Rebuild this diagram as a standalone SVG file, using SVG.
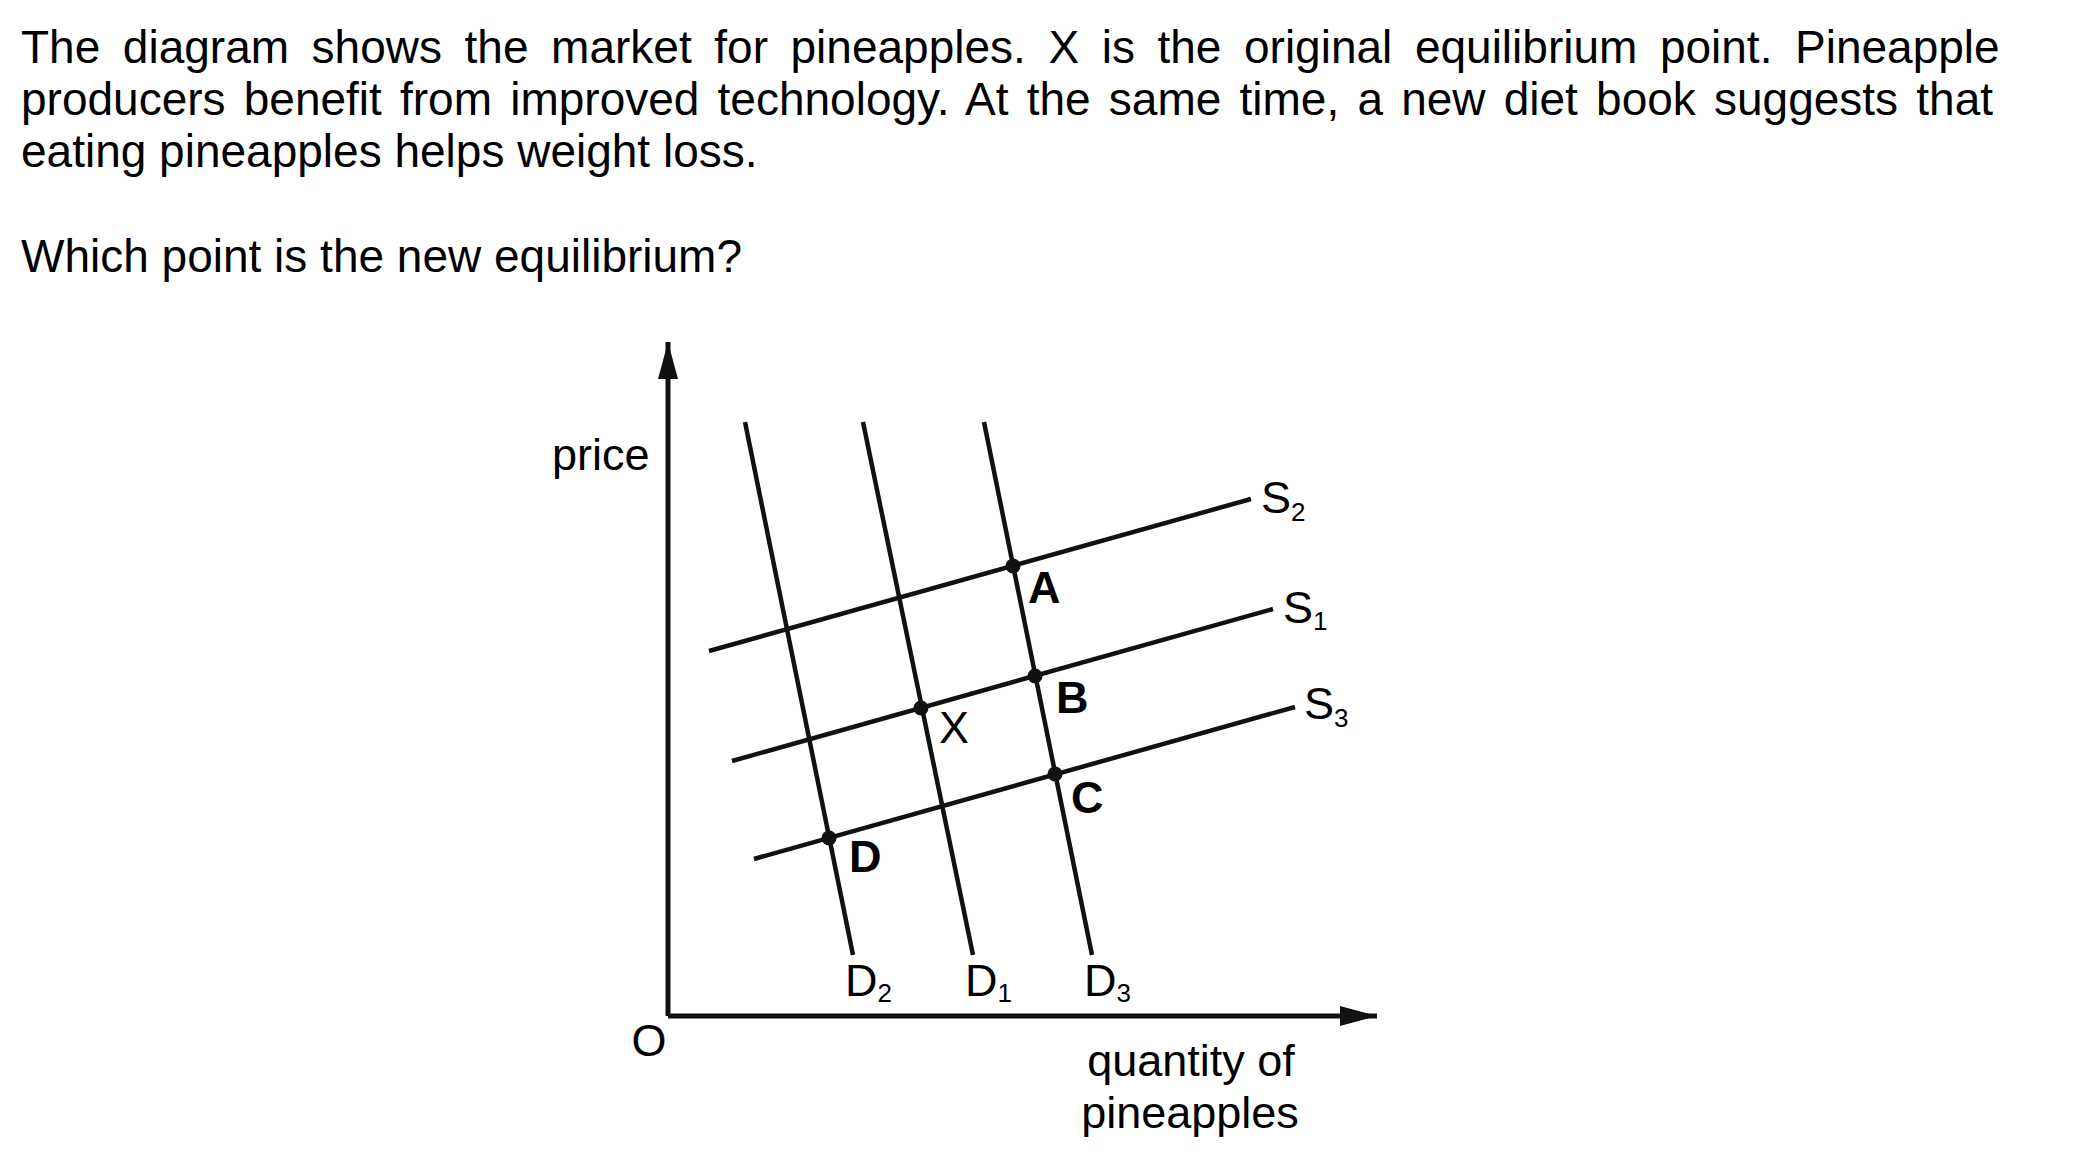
<svg xmlns="http://www.w3.org/2000/svg" width="2099" height="1161" viewBox="0 0 2099 1161">
<style>
text{font-family:"Liberation Sans",Arial,sans-serif;fill:#000}
.q{font-size:46px}
.lb{font-size:45px}
.b{font-weight:bold}
.sub{font-size:26px}
.ax{stroke:#111;stroke-width:5;fill:none}
.cv{stroke:#111;stroke-width:4.5;fill:none;stroke-linecap:butt}
.pt{fill:#111}
</style>
<defs>
<marker id="arr" markerUnits="userSpaceOnUse" markerWidth="40" markerHeight="22" refX="37" refY="10" orient="auto" viewBox="0 0 40 22">
<path d="M0,0 L37,10 L0,20 Z" fill="#111"/>
</marker>
</defs>
<rect width="2099" height="1161" fill="#fff"/>
<g id="question">
<text class="q" x="21" y="63" word-spacing="9.8">The diagram shows the market for pineapples. X is the original equilibrium point. Pineapple</text>
<text class="q" x="21" y="115" word-spacing="5.4">producers benefit from improved technology. At the same time, a new diet book suggests that</text>
<text class="q" x="21" y="167">eating pineapples helps weight loss.</text>
<text class="q" x="21" y="272">Which point is the new equilibrium?</text>
</g>
<g id="connectors">
<line id="y-axis" class="ax" x1="668" y1="1016" x2="668" y2="342" marker-end="url(#arr)"/>
<line id="x-axis" class="ax" x1="668" y1="1016" x2="1377" y2="1016" marker-end="url(#arr)"/>
<line id="D2-line" class="cv" x1="745" y1="422" x2="853" y2="955"/>
<line id="D1-line" class="cv" x1="863" y1="422" x2="973" y2="955"/>
<line id="D3-line" class="cv" x1="984" y1="422" x2="1092" y2="955"/>
<line id="S2-line" class="cv" x1="709" y1="651" x2="1251" y2="499"/>
<line id="S1-line" class="cv" x1="732" y1="761" x2="1273" y2="609"/>
<line id="S3-line" class="cv" x1="754" y1="859" x2="1295" y2="707"/>
</g>
<g id="axis-labels">
<text class="lb" x="552" y="470">price</text>
<text class="lb" x="649" y="1056" text-anchor="middle">O</text>
<text class="lb" x="1191" y="1076" text-anchor="middle">quantity of</text>
<text class="lb" x="1190" y="1128" text-anchor="middle">pineapples</text>
</g>
<g id="curve-labels">
<text class="lb" x="1261" y="513">S<tspan class="sub" dy="8">2</tspan></text>
<text class="lb" x="1283" y="623">S<tspan class="sub" dy="7">1</tspan></text>
<text class="lb" x="1304" y="719">S<tspan class="sub" dy="8">3</tspan></text>
<text class="lb" x="845" y="996">D<tspan class="sub" dy="6">2</tspan></text>
<text class="lb" x="965" y="996">D<tspan class="sub" dy="6">1</tspan></text>
<text class="lb" x="1084" y="996">D<tspan class="sub" dy="6">3</tspan></text>
</g>
<g id="point-A"><circle class="pt" cx="1013" cy="566" r="7.5"/><text class="lb b" x="1028" y="603">A</text></g>
<g id="point-B"><circle class="pt" cx="1035" cy="676" r="7.5"/><text class="lb b" x="1056" y="713">B</text></g>
<g id="point-X"><circle class="pt" cx="921" cy="708" r="7.5"/><text class="lb" x="939" y="743">X</text></g>
<g id="point-C"><circle class="pt" cx="1055" cy="774" r="7.5"/><text class="lb b" x="1071" y="813">C</text></g>
<g id="point-D"><circle class="pt" cx="829" cy="838" r="7.5"/><text class="lb b" x="849" y="872">D</text></g>
</svg>
